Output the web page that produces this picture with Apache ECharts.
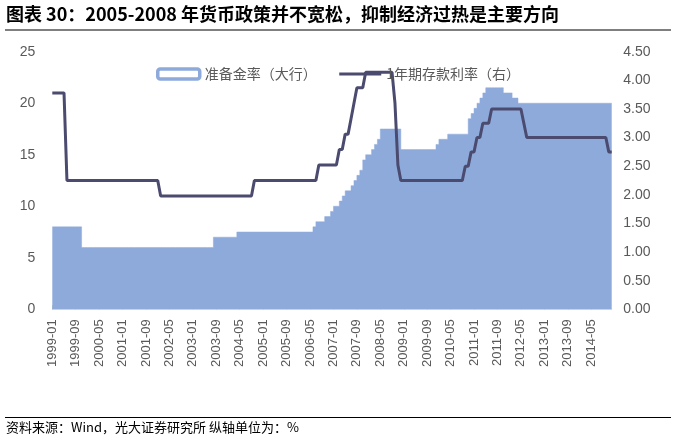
<!DOCTYPE html>
<html>
<head>
<meta charset="utf-8">
<script src="https://cdn.jsdelivr.net/npm/echarts@6/dist/echarts.min.js"></script>
<style>
  html, body { margin: 0; padding: 0; background: #fff; }
  #chart { width: 676px; height: 439px; }
</style>
</head>
<body>
<div id="chart"></div>
<script>
// months 1999-01 .. 2014-12
var months = [];
for (var y = 1999; y <= 2014; y++) {
    for (var m = 1; m <= 12; m++) {
        months.push(y + '-' + (m < 10 ? '0' + m : m));
    }
}

// 准备金率（大行），每行一年
var rrr = [
    8, 8, 8, 8, 8, 8, 8, 8, 8, 8, 8, 6,
    6, 6, 6, 6, 6, 6, 6, 6, 6, 6, 6, 6,
    6, 6, 6, 6, 6, 6, 6, 6, 6, 6, 6, 6,
    6, 6, 6, 6, 6, 6, 6, 6, 6, 6, 6, 6,
    6, 6, 6, 6, 6, 6, 6, 6, 7, 7, 7, 7,
    7, 7, 7, 7, 7.5, 7.5, 7.5, 7.5, 7.5, 7.5, 7.5, 7.5,
    7.5, 7.5, 7.5, 7.5, 7.5, 7.5, 7.5, 7.5, 7.5, 7.5, 7.5, 7.5,
    7.5, 7.5, 7.5, 7.5, 7.5, 7.5, 8, 8.5, 8.5, 8.5, 9, 9,
    9.5, 10, 10, 10.5, 11, 11.5, 11.5, 12, 12.5, 13, 13.5, 14.5,
    15, 15, 15.5, 16, 16.5, 17.5, 17.5, 17.5, 17.5, 17.5, 17.5, 17.5,
    15.5, 15.5, 15.5, 15.5, 15.5, 15.5, 15.5, 15.5, 15.5, 15.5, 15.5, 15.5,
    16, 16.5, 16.5, 16.5, 17, 17, 17, 17, 17, 17, 17, 18.5,
    19, 19.5, 20, 20.5, 21, 21.5, 21.5, 21.5, 21.5, 21.5, 21.5, 21,
    21, 21, 20.5, 20.5, 20, 20, 20, 20, 20, 20, 20, 20,
    20, 20, 20, 20, 20, 20, 20, 20, 20, 20, 20, 20,
    20, 20, 20, 20, 20, 20, 20, 20, 20, 20, 20, 20
];

// 1年期存款利率（右）
var depositRate = [
    3.78, 3.78, 3.78, 3.78, 3.78, 2.25, 2.25, 2.25, 2.25, 2.25, 2.25, 2.25,
    2.25, 2.25, 2.25, 2.25, 2.25, 2.25, 2.25, 2.25, 2.25, 2.25, 2.25, 2.25,
    2.25, 2.25, 2.25, 2.25, 2.25, 2.25, 2.25, 2.25, 2.25, 2.25, 2.25, 2.25,
    2.25, 1.98, 1.98, 1.98, 1.98, 1.98, 1.98, 1.98, 1.98, 1.98, 1.98, 1.98,
    1.98, 1.98, 1.98, 1.98, 1.98, 1.98, 1.98, 1.98, 1.98, 1.98, 1.98, 1.98,
    1.98, 1.98, 1.98, 1.98, 1.98, 1.98, 1.98, 1.98, 1.98, 2.25, 2.25, 2.25,
    2.25, 2.25, 2.25, 2.25, 2.25, 2.25, 2.25, 2.25, 2.25, 2.25, 2.25, 2.25,
    2.25, 2.25, 2.25, 2.25, 2.25, 2.25, 2.25, 2.52, 2.52, 2.52, 2.52, 2.52,
    2.52, 2.52, 2.79, 2.79, 3.06, 3.06, 3.33, 3.60, 3.87, 3.87, 3.87, 4.14,
    4.14, 4.14, 4.14, 4.14, 4.14, 4.14, 4.14, 4.14, 4.14, 3.60, 2.52, 2.25,
    2.25, 2.25, 2.25, 2.25, 2.25, 2.25, 2.25, 2.25, 2.25, 2.25, 2.25, 2.25,
    2.25, 2.25, 2.25, 2.25, 2.25, 2.25, 2.25, 2.25, 2.25, 2.50, 2.50, 2.75,
    2.75, 3.00, 3.00, 3.25, 3.25, 3.25, 3.50, 3.50, 3.50, 3.50, 3.50, 3.50,
    3.50, 3.50, 3.50, 3.50, 3.50, 3.25, 3.00, 3.00, 3.00, 3.00, 3.00, 3.00,
    3.00, 3.00, 3.00, 3.00, 3.00, 3.00, 3.00, 3.00, 3.00, 3.00, 3.00, 3.00,
    3.00, 3.00, 3.00, 3.00, 3.00, 3.00, 3.00, 3.00, 3.00, 3.00, 2.75, 2.75
];

var seriesNames = ['准备金率（大行）', '1年期存款利率（右）'];

var cjk = 'Noto Sans CJK SC';
var latin = 'Liberation Sans';

var myChart = echarts.init(document.getElementById('chart'));

var option = {
    animation: false,
    title: [
        {
            text: '图表 30：2005-2008 年货币政策并不宽松，抑制经济过热是主要方向',
            left: 6,
            top: 5,
            padding: 0,
            textStyle: { fontFamily: cjk, fontSize: 18, fontWeight: 'bold', color: '#000' }
        },
        {
            text: '资料来源：Wind，光大证券研究所 纵轴单位为：%',
            left: 6,
            top: 421,
            padding: 0,
            textStyle: { fontFamily: cjk, fontSize: 13, fontWeight: 'normal', color: '#000' }
        }
    ],
    graphic: [
        { type: 'line', shape: { x1: 5, y1: 30, x2: 671, y2: 30 }, style: { stroke: '#000', lineWidth: 1.2 } },
        { type: 'line', shape: { x1: 5, y1: 417.5, x2: 671, y2: 417.5 }, style: { stroke: '#000', lineWidth: 1.2 } }
    ],
    legend: {
        left: 151,
        top: 62,
        itemWidth: 42,
        itemHeight: 10,
        itemGap: 21,
        textStyle: { fontFamily: cjk, fontSize: 14, color: '#595959' },
        data: [
            {
                name: seriesNames[0],
                icon: 'roundRect',
                itemStyle: { color: '#fff', borderColor: '#8eaadb', borderWidth: 3.5 }
            },
            {
                name: seriesNames[1],
                itemStyle: { opacity: 0 },
                lineStyle: { width: 3, color: '#4b4a6f' }
            }
        ]
    },
    grid: {
        left: 52.3,
        right: 64.3,
        top: 51.7,
        bottom: 129.7
    },
    xAxis: {
        type: 'category',
        data: months,
        boundaryGap: false,
        axisLine: { lineStyle: { color: '#d9d9d9', width: 1 } },
        axisTick: { inside: true, length: 4, interval: 7, lineStyle: { color: '#bfbfbf' } },
        axisLabel: {
            interval: 7,
            rotate: 90,
            margin: 10,
            fontFamily: latin,
            fontSize: 13,
            color: '#595959'
        },
        splitLine: { show: false }
    },
    yAxis: [
        {
            type: 'value',
            min: 0,
            max: 25,
            interval: 5,
            axisLine: { show: false },
            axisTick: { show: false },
            splitLine: { show: false },
            axisLabel: { margin: 17, fontFamily: latin, fontSize: 14, color: '#595959' }
        },
        {
            type: 'value',
            min: 0,
            max: 4.5,
            interval: 0.5,
            position: 'right',
            axisLine: { show: false },
            axisTick: { show: false },
            splitLine: { show: false },
            axisLabel: {
                margin: 11.5,
                fontFamily: latin,
                fontSize: 14,
                color: '#595959',
                formatter: function (v) { return v.toFixed(2); }
            }
        }
    ],
    series: [
        {
            name: seriesNames[0],
            type: 'line',
            step: 'start',
            data: rrr,
            symbol: 'none',
            color: '#8eaadb',
            lineStyle: { width: 0.5, color: '#8eaadb' },
            areaStyle: { color: '#8eaadb', opacity: 1 },
            z: 1
        },
        {
            name: seriesNames[1],
            type: 'line',
            yAxisIndex: 1,
            data: depositRate,
            symbol: 'none',
            color: '#4b4a6f',
            lineStyle: { width: 3, color: '#4b4a6f' },
            z: 2
        }
    ]
};

myChart.setOption(option);
</script>
</body>
</html>
